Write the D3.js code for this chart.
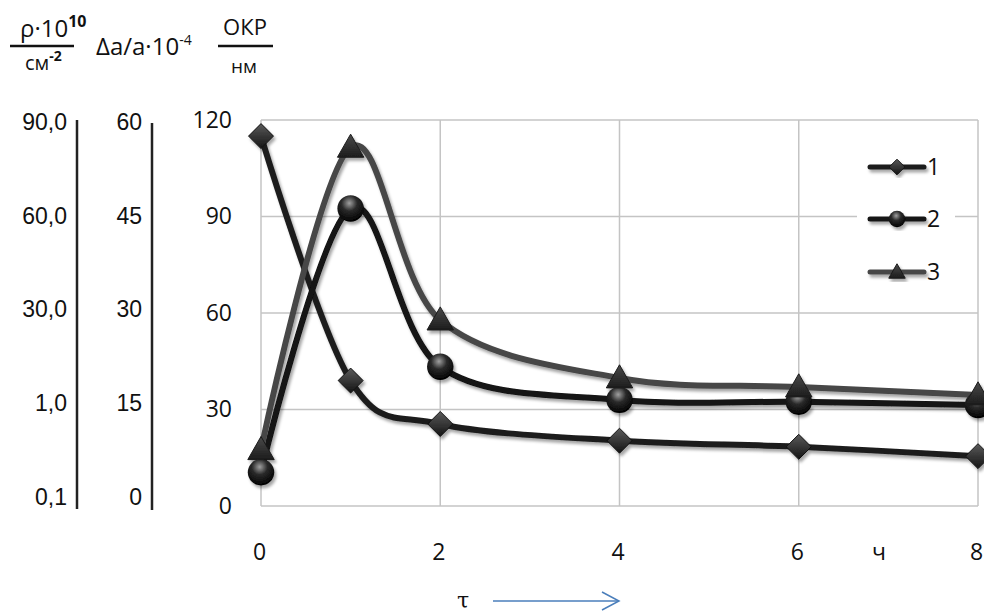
<!DOCTYPE html>
<html>
<head>
<meta charset="utf-8">
<script src="https://cdn.jsdelivr.net/npm/d3@7"></script>
<style>
  body { margin: 0; background: #fff; }
  svg { display: block; font-family: "Open Sans", sans-serif; }
</style>
</head>
<body>
<svg id="chart" width="984" height="614"></svg>
<script>
// hours
const hours = [0, 1, 2, 4, 6, 8];
const series1 = [115, 39, 25.5, 20.3, 18.4, 15.5];
const series2 = [10.5, 92.5, 43.3, 33, 32.4, 31.4];
const series3 = [17.5, 111.5, 57.8, 39.8, 37, 34.5];
const seriesNames = ["1", "2", "3"];

const xTicks = [0, 2, 4, 6, 8];
const yTicks = [0, 30, 60, 90, 120];
const rhoTicks = ["90,0", "60,0", "30,0", "1,0", "0,1"];
const strainTicks = [0, 15, 30, 45, 60];

const svg = d3.select("#chart");
const fs = 23;

const x = d3.scaleLinear().domain([0, 8]).range([261, 978]);
const y = d3.scaleLinear().domain([0, 120]).range([506, 120]);

// extra scales for the two left axes
const rhoScale = d3.scalePoint().domain(rhoTicks).range([122, 497]);
const strainScale = d3.scaleLinear().domain([0, 60]).range([497, 122]);

const defs = svg.append("defs");

const shadow = defs.append("filter").attr("id", "shadow")
  .attr("x", "-20%").attr("y", "-20%").attr("width", "140%").attr("height", "140%");
shadow.append("feDropShadow")
  .attr("dx", 2).attr("dy", 3).attr("stdDeviation", 1.6)
  .attr("flood-color", "#000").attr("flood-opacity", 0.35);

const ball = defs.append("radialGradient").attr("id", "ball")
  .attr("cx", "45%").attr("cy", "30%").attr("r", "65%");
ball.append("stop").attr("offset", "0%").attr("stop-color", "#a0a0a0");
ball.append("stop").attr("offset", "45%").attr("stop-color", "#2a2a2a");
ball.append("stop").attr("offset", "100%").attr("stop-color", "#050505");

const diam = defs.append("linearGradient").attr("id", "diam")
  .attr("x1", 0).attr("y1", 0).attr("x2", 0).attr("y2", 1);
diam.append("stop").attr("offset", "0%").attr("stop-color", "#5a5a5a");
diam.append("stop").attr("offset", "100%").attr("stop-color", "#141414");

const tri = defs.append("linearGradient").attr("id", "tri")
  .attr("x1", 0).attr("y1", 0).attr("x2", 0).attr("y2", 1);
tri.append("stop").attr("offset", "0%").attr("stop-color", "#4a4a4a");
tri.append("stop").attr("offset", "100%").attr("stop-color", "#1c1c1c");

// grid
const grid = svg.append("g").attr("stroke", "#c4c4c4").attr("stroke-width", 1.5);
grid.selectAll(".h").data(yTicks).join("line")
  .attr("x1", x(0)).attr("x2", x(8))
  .attr("y1", d => y(d)).attr("y2", d => y(d));
grid.selectAll(".v").data(xTicks).join("line")
  .attr("x1", d => x(d)).attr("x2", d => x(d))
  .attr("y1", y(0)).attr("y2", y(120));

// main y axis labels
const yAxis = svg.append("g")
  .attr("transform", `translate(${x(0)},0)`)
  .call(d3.axisLeft(y).tickValues(yTicks).tickSize(0).tickPadding(29));
yAxis.select(".domain").remove();

// x axis labels
const xAxis = svg.append("g")
  .attr("transform", `translate(0,${y(0)})`)
  .call(d3.axisBottom(x).tickValues(xTicks).tickSize(0).tickPadding(38));
xAxis.select(".domain").remove();
xAxis.selectAll(".tick text").attr("dx", -2);

svg.selectAll(".tick text")
  .style("font-size", fs + "px").style("font-family", "Open Sans, sans-serif").attr("fill", "#111");

svg.append("text").attr("x", 879).attr("y", y(0) + 38).attr("dy", "0.71em")
  .attr("text-anchor", "middle").attr("font-size", fs).attr("fill", "#111").text("ч");

// left axis: rho
const rhoAxis = svg.append("g").attr("transform", "translate(77,0)")
  .call(d3.axisLeft(rhoScale).tickSize(0).tickPadding(10));
rhoAxis.select(".domain").remove();
rhoAxis.selectAll(".tick text").style("font-size", fs + "px").attr("fill", "#111");
svg.append("line").attr("x1", 77).attr("x2", 77).attr("y1", 120).attr("y2", 509)
  .attr("stroke", "#222").attr("stroke-width", 2.5);

// left axis: strain
const strainAxis = svg.append("g").attr("transform", "translate(152,0)")
  .call(d3.axisLeft(strainScale).tickValues(strainTicks).tickSize(0).tickPadding(10));
strainAxis.select(".domain").remove();
strainAxis.selectAll(".tick text").style("font-size", fs + "px").attr("fill", "#111");
svg.append("line").attr("x1", 152).attr("x2", 152).attr("y1", 123).attr("y2", 510)
  .attr("stroke", "#222").attr("stroke-width", 2.5);

// header labels
const head = svg.append("g").attr("fill", "#111");
const t1 = head.append("text").attr("x", 20).attr("y", 37).attr("font-size", 24);
t1.append("tspan").text("ρ·10");
t1.append("tspan").attr("font-size", 16).attr("dy", -10).attr("font-weight", "bold").text("10");
head.append("line").attr("x1", 10).attr("x2", 74).attr("y1", 46).attr("y2", 46)
  .attr("stroke", "#111").attr("stroke-width", 2.5);
const t2 = head.append("text").attr("x", 25).attr("y", 70).attr("font-size", 20);
t2.append("tspan").text("см");
t2.append("tspan").attr("font-size", 14).attr("dy", -9).attr("font-weight", "bold").text("-2");

const t3 = head.append("text").attr("x", 96).attr("y", 55).attr("font-size", 24);
t3.append("tspan").text("Δa/a·10");
t3.append("tspan").attr("font-size", 14).attr("dy", -10).text("-4");

head.append("text").attr("x", 245).attr("y", 35).attr("text-anchor", "middle")
  .attr("font-size", 22).text("ОКР");
head.append("line").attr("x1", 218).attr("x2", 273).attr("y1", 46).attr("y2", 46)
  .attr("stroke", "#111").attr("stroke-width", 2.5);
head.append("text").attr("x", 244).attr("y", 73).attr("text-anchor", "middle")
  .attr("font-size", 19).text("нм");

// series
const series = [
  { name: seriesNames[0], values: series1, color: "#1c1c1c", marker: "diamond" },
  { name: seriesNames[1], values: series2, color: "#121212", marker: "circle" },
  { name: seriesNames[2], values: series3, color: "#474747", marker: "triangle" }
];

const line = d3.line()
  .x(d => x(d[0]))
  .y(d => y(d[1]))
  .curve(d3.curveCardinal.tension(0));

const drawMarker = (g, type, cx, cy, s) => {
  if (type === "circle") {
    g.append("circle").attr("cx", cx).attr("cy", cy).attr("r", s * 0.55)
      .attr("fill", "url(#ball)");
  } else if (type === "diamond") {
    const h = s * 0.52;
    g.append("path")
      .attr("d", `M${cx},${cy - h}L${cx + h},${cy}L${cx},${cy + h}L${cx - h},${cy}Z`)
      .attr("fill", "url(#diam)").attr("stroke", "#111").attr("stroke-width", 1);
  } else {
    const h = s * 0.55;
    g.append("path")
      .attr("d", `M${cx},${cy - h}L${cx + h},${cy + h * 0.75}L${cx - h},${cy + h * 0.75}Z`)
      .attr("fill", "url(#tri)").attr("stroke", "#1a1a1a").attr("stroke-width", 1);
  }
};

const plot = svg.append("g").attr("filter", "url(#shadow)");

series.forEach(s => {
  plot.append("path")
    .datum(hours.map((h, i) => [h, s.values[i]]))
    .attr("d", line)
    .attr("fill", "none")
    .attr("stroke", s.color)
    .attr("stroke-width", 6)
    .attr("stroke-linecap", "round");
});

series.forEach(s => {
  const g = plot.append("g");
  hours.forEach((h, i) => drawMarker(g, s.marker, x(h), y(s.values[i]), 24));
});

// legend
const legend = svg.append("g");
legend.append("rect").attr("x", 857).attr("y", 140).attr("width", 98).attr("height", 152).attr("fill", "#fff");
const legendY = [167, 219, 272];
series.forEach((s, i) => {
  const g = legend.append("g").attr("filter", "url(#shadow)");
  g.append("line").attr("x1", 870).attr("x2", 924)
    .attr("y1", legendY[i]).attr("y2", legendY[i])
    .attr("stroke", s.color).attr("stroke-width", 5).attr("stroke-linecap", "round");
  drawMarker(g, s.marker, 897, legendY[i], 15);
  legend.append("text").attr("x", 927).attr("y", legendY[i]).attr("dy", "0.36em")
    .attr("font-size", fs).attr("fill", "#111").text(s.name);
});

// tau arrow
svg.append("text").attr("x", 463).attr("y", 608).attr("text-anchor", "middle")
  .attr("font-family", "DejaVu Serif, serif").attr("font-size", 22).attr("fill", "#111").text("τ");
svg.append("line").attr("x1", 493).attr("x2", 618).attr("y1", 601).attr("y2", 601)
  .attr("stroke", "#4a7ebb").attr("stroke-width", 1.5);
svg.append("path").attr("d", "M602,592L619,601L602,610")
  .attr("fill", "none").attr("stroke", "#4a7ebb").attr("stroke-width", 1.5);
</script>
</body>
</html>
